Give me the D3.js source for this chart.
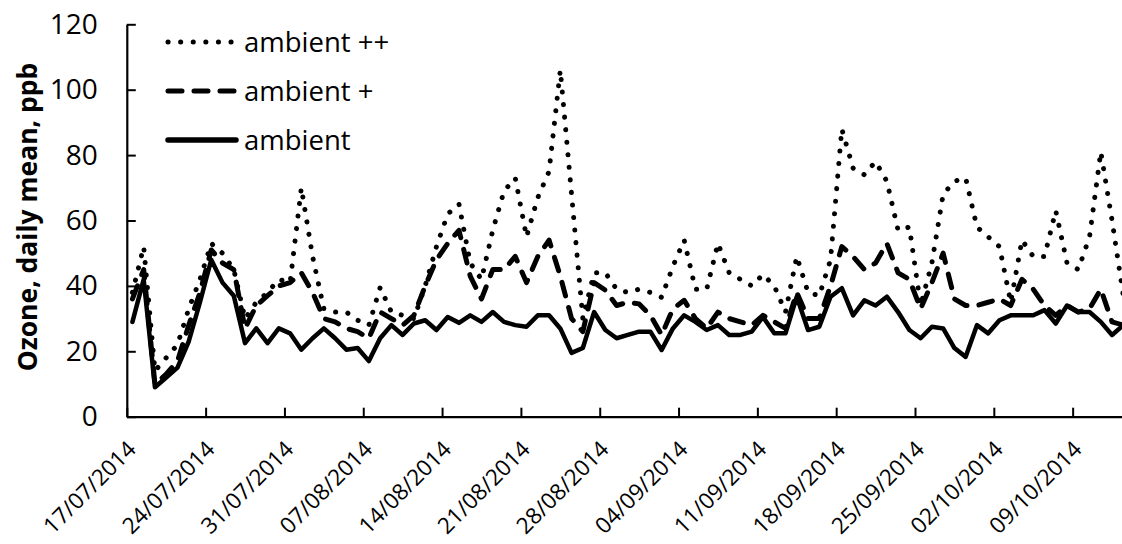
<!DOCTYPE html>
<html>
<head>
<meta charset="utf-8">
<script src="https://cdn.jsdelivr.net/npm/d3@7"></script>
<style>
  html, body { margin: 0; padding: 0; background: #fff; }
  svg { display: block; }
</style>
</head>
<body>
<svg id="chart" width="1122" height="544"></svg>
<script>
// ---------- data ----------
const startDate = "2014-07-17";
const seriesNames = ["ambient ++", "ambient +", "ambient"];

const ambientPP = [38,52,14,18,22,33,42,53,50,45,
  30,35,38,42,41,70,49,33,32,32,
  29.5,28,39.5,32,31,30,40,52,62,65,
  47,42,57,69,73,55,67,75,106,68,
  30,44,44,39,38,39,38,36.5,46,54,
  39,39,53,44,42,40,43.5,40,32,49,
  38,37,48,88,76,74,78,72,57,58,
  34,47,68,72,73,58,55,52,35,54,
  49,49,63,47,45,55,81,60,37];

const ambientP = [36,45,10,13,17,28,38,51,47,45,
  27,34,37,40,41,44,38,30,29,27,
  26,24,32,30,28,31,40,48,53,57,
  43,36,45,45,49,41,49,54,43,30,
  26,41,38.7,34,35,34.5,31,25,33,35.6,
  30,27,32,30,29,28,31,29,27,38,
  30,30,40,52,49,45,47,53,44,42,
  33,41,50,36,34,34,35,36,34,42,
  39,34,31,34,32,33,39,29,28];

const ambient = [29,42,9,12,15,23,35,48,41,37,
  22.5,27,22.5,27,25.5,20.5,24,27,24,20.5,
  21,17,24,28,25,28.5,29.5,26.5,30.5,28.7,
  31,29,32,29,28,27.5,31,31,27,19.5,
  21,32,26.5,24,25,26,26,20.4,27,31,
  29,26.5,28,25,25,26,30.5,25.5,25.5,36.7,
  26.5,27.5,36.7,39.3,31,35.6,34,36.7,32,26.5,
  24,27.5,27,21,18.3,28,25.5,29.5,31,31,
  31,32.6,28.5,34,32,32,29,25,28];

const xTickLabels = ["17/07/2014","24/07/2014","31/07/2014","07/08/2014","14/08/2014",
  "21/08/2014","28/08/2014","04/09/2014","11/09/2014","18/09/2014",
  "25/09/2014","02/10/2014","09/10/2014"];
const yTickValues = [0,20,40,60,80,100,120];
const yTitle = "Ozone, daily mean, ppb";

// ---------- layout ----------
const svg = d3.select("#chart");
const FONT = "'Open Sans', 'DejaVu Sans', sans-serif";
const x0 = 126.8, pxPerDay = 11.26, nDays = ambient.length;
const start = d3.utcParse("%Y-%m-%d")(startDate);
const dates = d3.range(nDays).map(i => d3.utcDay.offset(start, i));
const parseLabel = d3.utcParse("%d/%m/%Y");
const tickDates = xTickLabels.map(parseLabel);

const x = d3.scaleUtc()
  .domain([start, d3.utcDay.offset(start, nDays)])
  .range([x0, x0 + nDays * pxPerDay]);
const y = d3.scaleLinear().domain([0, 120]).range([416.7, 24.3]);

const xPos = d => x(d3.utcHour.offset(d, 12));

// ---------- axes ----------
const yAxis = svg.append("g")
  .attr("transform", `translate(${x0},0)`)
  .call(d3.axisLeft(y).tickValues(yTickValues).tickSizeInner(-9).tickSizeOuter(0).tickPadding(29));
yAxis.selectAll("text").attr("font-family", FONT).attr("font-size", 28).attr("fill", "#000");

const xAxis = svg.append("g")
  .attr("transform", `translate(0,${y(0)})`)
  .call(d3.axisBottom(x).tickValues(tickDates).tickSizeInner(-9).tickSizeOuter(0)
        .tickFormat((d, i) => xTickLabels[i]));
xAxis.selectAll("text")
  .attr("font-family", FONT).attr("font-size", 22.5).attr("fill", "#000")
  .attr("text-anchor", "end")
  .attr("dy", null).attr("y", null)
  .attr("transform", "translate(10,34) rotate(-45)");

svg.selectAll(".domain").attr("stroke", "#000").attr("stroke-width", 2.2);
svg.selectAll(".tick line").attr("stroke", "#000").attr("stroke-width", 2);

// y title
svg.append("text")
  .attr("transform", `translate(37,217) rotate(-90)`)
  .attr("text-anchor", "middle")
  .attr("font-family", FONT).attr("font-weight", "bold").attr("font-size", 26.5)
  .attr("fill", "#000")
  .text(yTitle);

// ---------- lines ----------
const styles = [
  { w: 5, dash: "0.1 12.5", cap: "round" },
  { w: 5, dash: "14 12", cap: "round" },
  { w: 4.5, dash: null, cap: "round" }
];
const seriesData = [ambientPP, ambientP, ambient];
const line = d3.line().x((d, i) => xPos(dates[i])).y(d => y(d));

seriesData.forEach((s, k) => {
  svg.append("path")
    .datum(s)
    .attr("fill", "none")
    .attr("stroke", "#000")
    .attr("stroke-width", styles[k].w)
    .attr("stroke-linecap", styles[k].cap)
    .attr("stroke-linejoin", "round")
    .attr("stroke-dasharray", styles[k].dash)
    .attr("d", line);
});

// ---------- legend ----------
const legendY = [42, 91, 140];
seriesNames.forEach((name, k) => {
  svg.append("line")
    .attr("x1", 168).attr("x2", 236)
    .attr("y1", legendY[k]).attr("y2", legendY[k])
    .attr("stroke", "#000")
    .attr("stroke-width", k === 2 ? 5.5 : styles[k].w)
    .attr("stroke-linecap", styles[k].cap)
    .attr("stroke-dasharray", styles[k].dash);
  svg.append("text")
    .attr("x", 244).attr("y", legendY[k] + 10)
    .attr("font-family", FONT).attr("font-size", 27.5).attr("fill", "#000")
    .text(name);
});
</script>
</body>
</html>
